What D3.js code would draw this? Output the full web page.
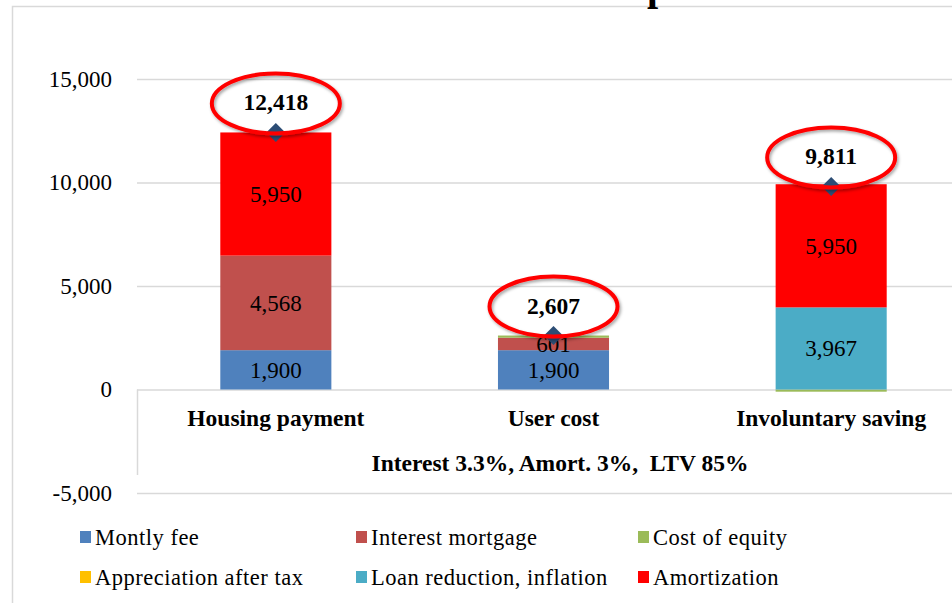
<!DOCTYPE html>
<html>
<head>
<meta charset="utf-8">
<script src="https://cdn.jsdelivr.net/npm/d3@7"></script>
<style>
  body { margin: 0; background: #fff; }
  svg text { font-family: "Liberation Serif", "Times New Roman", serif; white-space: pre; }
</style>
</head>
<body>
<svg id="chart" width="952" height="603"></svg>
<script>
// categories and series
var categories = ["Housing payment", "User cost", "Involuntary saving"];
var groupLabel = "Interest 3.3%, Amort. 3%,  LTV 85%";
var seriesNames = ["Montly fee", "Interest mortgage", "Cost of equity", "Appreciation after tax", "Loan reduction, inflation", "Amortization"];
var montlyFee = [1900, 1900, 0];
var interestMortgage = [4568, 601, 0];
var costOfEquity = [0, 106, -106];
var appreciation = [0, 0, 0];
var loanReduction = [0, 0, 3967];
var amortization = [5950, 0, 5950];
var totals = [12418, 2607, 9811];
var yTicks = [-5000, 0, 5000, 10000, 15000];
var colors = ["#4f81bd", "#c0504d", "#9bbb59", "#ffc000", "#4bacc6", "#ff0000"];
var labelled = [true, true, false, false, true, true];

var values = [montlyFee, interestMortgage, costOfEquity, appreciation, loanReduction, amortization];
var rows = categories.map(function(c, i) {
  var r = { cat: c };
  seriesNames.forEach(function(s, k) { r[s] = values[k][i]; });
  return r;
});

// excel style numbers, plain hyphen for negatives
var fmt = function(v) { return d3.format(",")(v).replace("\u2212", "-"); };

var svg = d3.select("#chart");

// chart frame
svg.append("rect")
  .attr("x", 12.5).attr("y", 6.5)
  .attr("width", 1200).attr("height", 800)
  .style("fill", "none").style("stroke", "#d9d9d9").style("stroke-width", 1.5);

// title, mostly cut off above the picture; only the descender of the p shows
var title = svg.append("text")
  .attr("y", 0)
  .style("font-size", "40px").style("font-weight", "bold")
  .text("Cost per month");
var pIndex = title.text().indexOf("p");
var pStart = title.node().getStartPositionOfChar(pIndex).x;
title.attr("x", 647 - pStart);

var x = d3.scaleBand().domain(categories).range([137, 970]).paddingInner(0.6).paddingOuter(0.3);
var y = d3.scaleLinear().domain([-5000, 15000]).range([493, 79]);

// gridlines
svg.append("g").selectAll("line")
  .data(yTicks)
  .enter().append("line")
  .attr("x1", 137).attr("x2", 970)
  .attr("y1", function(d) { return y(d) + 0.5; })
  .attr("y2", function(d) { return y(d) + 0.5; })
  .style("stroke", "#d9d9d9").style("stroke-width", 1.5);

// y axis labels
var yAxis = svg.append("g")
  .attr("transform", "translate(137,0)")
  .call(d3.axisLeft(y).tickValues(yTicks).tickFormat(fmt).tickSize(0).tickPadding(25));
yAxis.select(".domain").remove();
yAxis.selectAll("text").style("font-size", "23px").style("fill", "#000")
  .style("font-family", "'Liberation Serif', 'Times New Roman', serif");

// multi-level category box divider
svg.append("line")
  .attr("x1", 137.5).attr("x2", 137.5)
  .attr("y1", y(0)).attr("y2", 475)
  .style("stroke", "#d9d9d9").style("stroke-width", 1.5);

var stack = d3.stack().keys(seriesNames).offset(d3.stackOffsetDiverging);
var stacked = stack(rows);

var layers = svg.append("g").selectAll("g")
  .data(stacked)
  .enter().append("g")
  .style("fill", function(d, i) { return colors[i]; });

layers.selectAll("rect")
  .data(function(d) { return d; })
  .enter().append("rect")
  .attr("x", function(d) { return x(d.data.cat); })
  .attr("width", x.bandwidth())
  .attr("y", function(d) { return y(Math.max(d[0], d[1])); })
  .attr("height", function(d) { return Math.abs(y(d[0]) - y(d[1])); });

// segment value labels
stacked.forEach(function(layer, k) {
  if (!labelled[k]) return;
  svg.append("g").selectAll("text")
    .data(layer.filter(function(d) { return d[1] - d[0] != 0; }))
    .enter().append("text")
    .attr("x", function(d) { return x(d.data.cat) + x.bandwidth() / 2; })
    .attr("y", function(d) { return (y(d[0]) + y(d[1])) / 2 + 8; })
    .attr("text-anchor", "middle")
    .style("font-size", "23px").style("fill", "#000")
    .text(function(d) { return fmt(d[1] - d[0]); });
});

// category labels
svg.append("g").selectAll("text")
  .data(categories)
  .enter().append("text")
  .attr("x", function(d) { return x(d) + x.bandwidth() / 2; })
  .attr("y", 426)
  .attr("text-anchor", "middle")
  .style("font-size", "23.5px").style("font-weight", "bold")
  .text(function(d) { return d; });

svg.append("text")
  .attr("x", 560).attr("y", 471)
  .attr("text-anchor", "middle")
  .style("font-size", "23.5px").style("font-weight", "bold")
  .text(groupLabel);

// total markers
var defs = svg.append("defs");
var f = defs.append("filter").attr("id", "shadow").attr("x", "-20%").attr("y", "-20%").attr("width", "140%").attr("height", "140%");
f.append("feDropShadow").attr("dx", 1.5).attr("dy", 2).attr("stdDeviation", 1.5).attr("flood-color", "#000").attr("flood-opacity", 0.35);

svg.append("g").selectAll("path")
  .data(totals)
  .enter().append("path")
  .attr("d", d3.symbol().type(d3.symbolDiamond2).size(230))
  .attr("transform", function(d, i) { return "translate(" + (x(categories[i]) + x.bandwidth() / 2) + "," + y(d) + ")"; })
  .style("fill", "#2c4d75");

// red ellipses round the totals
svg.append("g").selectAll("ellipse")
  .data(totals)
  .enter().append("ellipse")
  .attr("cx", function(d, i) { return x(categories[i]) + x.bandwidth() / 2; })
  .attr("cy", function(d) { return y(d) - 29; })
  .attr("rx", 64).attr("ry", 30)
  .attr("filter", "url(#shadow)")
  .style("fill", "none").style("stroke", "#ff0000").style("stroke-width", 4);

svg.append("g").selectAll("text")
  .data(totals)
  .enter().append("text")
  .attr("x", function(d, i) { return x(categories[i]) + x.bandwidth() / 2; })
  .attr("y", function(d) { return y(d) - 30 + 8; })
  .attr("text-anchor", "middle")
  .style("font-size", "23.5px").style("font-weight", "bold")
  .text(function(d) { return fmt(d); });

// legend
var legendX = [80, 356, 638];
var legendY = [537, 577];
var legend = svg.append("g").selectAll("g")
  .data(seriesNames)
  .enter().append("g")
  .attr("transform", function(d, i) { return "translate(" + legendX[i % 3] + "," + legendY[Math.floor(i / 3)] + ")"; });
legend.append("rect")
  .attr("x", 0).attr("y", -6).attr("width", 11).attr("height", 12)
  .style("fill", function(d, i) { return colors[i]; });
legend.append("text")
  .attr("x", 15).attr("y", 8)
  .style("font-size", "22.5px").style("letter-spacing", "0.5px")
  .text(function(d) { return d; });
</script>
</body>
</html>
